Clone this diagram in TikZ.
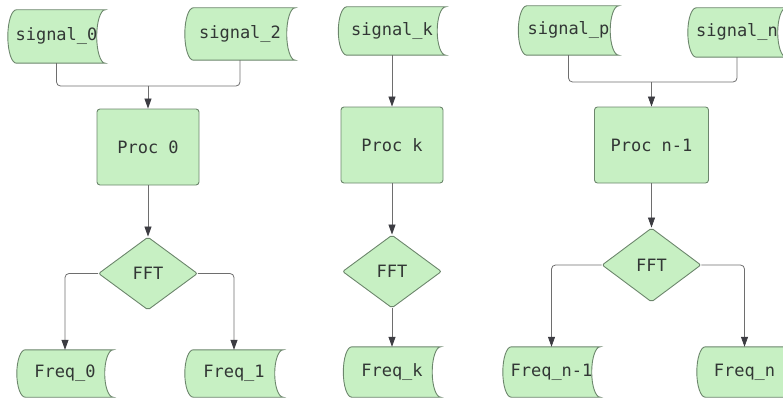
\documentclass[tikz,border=0pt]{standalone}
\usepackage{fontspec}
\setmonofont{DejaVu Sans Mono}
\usetikzlibrary{shapes.geometric,arrows.meta,calc,backgrounds}

\definecolor{boxfill}{RGB}{199,240,195}
\definecolor{boxline}{RGB}{108,134,108}
\definecolor{linec}{RGB}{110,110,110}
\definecolor{tipc}{RGB}{60,60,66}
\definecolor{txt}{RGB}{50,55,53}

\newcommand\lbl{\ttfamily\fontsize{17}{20}\selectfont}
\newcommand\stdepth{8.5pt}
% stored-data outline: convex left side, concave right side
\newcommand\storedoutline[1]{%
  \path[shapeline] let \p1=(#1.north west), \p2=(#1.south east),
      \n1={(\y1-\y2)/2} in
    (\x1+\stdepth,\y1) -- (\x2,\y1)
    arc[start angle=90,end angle=270,x radius=\stdepth,y radius={\n1*1pt}]
    -- (\x1+\stdepth,\y2)
    arc[start angle=270,end angle=90,x radius=\stdepth,y radius={\n1*1pt}]
    -- cycle;}

\tikzset{
  shapeline/.style={fill=boxfill, draw=boxline, line width=0.9pt},
  procbox/.style={shapeline, rectangle, rounded corners=3pt, inner sep=0pt,
    font=\lbl, text=txt},
  fftbox/.style={shapeline, diamond, rounded corners=2pt, inner sep=0pt,
    minimum width=99pt, minimum height=73pt, font=\lbl, text=txt},
  storebox/.style={rectangle, inner sep=0pt, font=\lbl, text=txt},
  conn/.style={draw=linec, line width=0.8pt, rounded corners=4pt},
  arr/.style={conn, -{Triangle[length=10pt,width=7pt,color=tipc]}}
}

\begin{document}
\begin{tikzpicture}[x=1pt,y=-1pt]
\useasboundingbox (0,0) rectangle (783,401);
\clip (0,0) rectangle (783,401);

% ---------- processor 0 ----------
\node[storebox, minimum width=97pt, minimum height=53pt] (s0) at (56.5,36.5) {signal\_0};
\node[storebox, minimum width=110pt, minimum height=52pt] (s2) at (240,34) {signal\_2};
\node[procbox, minimum width=102pt, minimum height=76pt] (p0) at (148,147) {Proc 0};
\node[fftbox] (d0) at (148,273.5) {FFT};
\node[storebox, minimum width=96pt, minimum height=47pt] (f0) at (65,373.5) {Freq\_0};
\node[storebox, minimum width=98pt, minimum height=47pt] (f1) at (234,373.5) {Freq\_1};
\coordinate (j0) at (148,86);

% ---------- processor k ----------
\node[storebox, minimum width=107pt, minimum height=48pt] (sk) at (392,31) {signal\_k};
\node[procbox, minimum width=102pt, minimum height=76pt] (pk) at (392,145) {Proc k};
\node[fftbox] (dk) at (392,271.5) {FFT};
\node[storebox, minimum width=97pt, minimum height=50pt] (fk) at (392,372) {Freq\_k};

% ---------- processor n-1 ----------
\node[storebox, minimum width=100pt, minimum height=49pt] (sp) at (568.5,30.5) {signal\_p};
\node[storebox, minimum width=98pt, minimum height=49pt] (sn) at (737,32.5) {signal\_n};
\node[procbox, minimum width=114pt, minimum height=76pt] (pn) at (651.5,145) {Proc n-1};
\node[fftbox, minimum height=74pt] (dn) at (651.5,265) {FFT};
\node[storebox, minimum width=97pt, minimum height=50pt] (fn1) at (551.5,372) {Freq\_n-1};
\node[storebox, minimum width=95pt, minimum height=50pt] (fn) at (744.5,372) {Freq\_n};
\coordinate (jn) at (651.5,82);

% stored-data outlines behind their labels
\begin{scope}[on background layer]
  \clip (0,0) rectangle (783,401);
  \foreach \s in {s0,s2,f0,f1,sk,fk,sp,sn,fn1,fn}{\storedoutline{\s}}
\end{scope}

% ---------- connectors ----------
\draw[conn] (s0.south) |- (j0);
\draw[conn] (s2.south) |- (j0);
\draw[arr] (j0) -- (p0.north);
\draw[arr] (p0.south) -- (d0.north);
\draw[arr] (d0.west) -| (f0.north);
\draw[arr] (d0.east) -| (f1.north);

\draw[arr] (sk.south) -- (pk.north);
\draw[arr] (pk.south) -- (dk.north);
\draw[arr] (dk.south) -- (fk.north);

\draw[conn] (sp.south) |- (jn);
\draw[conn] (sn.south) |- (jn);
\draw[arr] (jn) -- (pn.north);
\draw[arr] (pn.south) -- (dn.north);
\draw[arr] (dn.west) -| (fn1.north);
\draw[arr] (dn.east) -| (fn.north);
\end{tikzpicture}
\end{document}
